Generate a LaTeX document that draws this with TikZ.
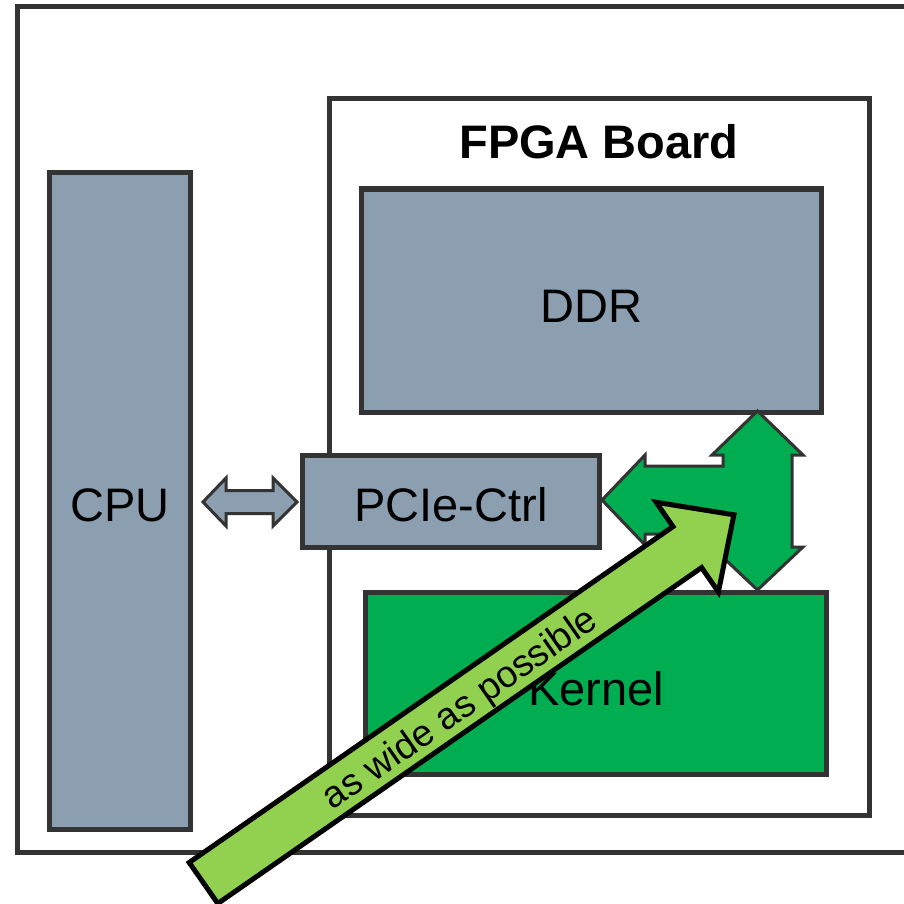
\documentclass[tikz,border=0pt]{standalone}
\usepackage{fontspec}
\setmainfont{Liberation Sans}
\definecolor{edge}{RGB}{51,51,51}
\definecolor{slate}{RGB}{140,159,176}
\definecolor{kgreen}{RGB}{0,173,80}
\definecolor{lgreen}{RGB}{146,208,80}
\begin{document}
\begin{tikzpicture}[x=1pt,y=-1pt,
  box/.style={draw=edge,line width=5pt,inner sep=0pt,outer sep=0pt,anchor=center},
  lbl/.style={inner sep=0pt,font=\fontsize{47}{50}\selectfont,text height=33.6pt,text depth=0pt},
  garrow/.style={draw=edge,line width=3pt,fill=kgreen,line join=miter},
  sarrow/.style={draw=edge,line width=3pt,fill=slate,line join=miter},
  bigarrow/.style={draw=black,line width=5pt,fill=lgreen,line join=miter}]
\useasboundingbox (0,0) rectangle (904,904);
\begin{scope}
\clip (0,0) rectangle (904,904);
% outer frame
\draw[edge,line width=5pt] (940,7) -- (17.5,7) -- (17.5,852.5) -- (940,852.5);
% FPGA board
\node[box,fill=white,minimum width=540.5pt,minimum height=716.5pt] (fpga) at (599.25,456.75) {};
\node[inner sep=0pt,font=\fontsize{47}{50}\selectfont\bfseries,text height=33.6pt,text depth=0pt] (fpgat) at (599,141.5) {FPGA Board};
% CPU
\node[box,fill=slate,minimum width=141.5pt,minimum height=656pt] (cpu) at (119.75,501) {};
\node[lbl] (cput) at (119.75,505) {CPU};
% DDR
\node[box,fill=slate,minimum width=460.5pt,minimum height=223pt] (ddr) at (591.25,300.5) {};
\node[lbl] (ddrt) at (591.25,306) {DDR};
% PCIe
\node[box,fill=slate,minimum width=297pt,minimum height=92.5pt] (pcie) at (451,501.25) {};
\node[lbl] (pciet) at (451,504.5) {PCIe-Ctrl};
% Kernel
\node[box,fill=kgreen,minimum width=461pt,minimum height=182pt] (kern) at (596,683.5) {};
\node[lbl] (kernt) at (596,688.5) {Kernel};
% green multi-way arrow between PCIe, DDR and Kernel
\coordinate (gl) at (602,500);
\coordinate (gt) at (757.5,411);
\coordinate (gb) at (757.5,590);
\draw[garrow] (gl) -- (645,455) -- (645,466) -- (723,466) -- (723,455) -- (712,455)
  -- (gt) -- (803,455) -- (792,455) -- (792,547) -- (803,547) -- (gb)
  -- (712,547) -- (723,547) -- (723,534) -- (645,534) -- (645,545) -- cycle;
% CPU <-> PCIe arrow
\coordinate (sl) at (203,502);
\coordinate (sr) at (297,502);
\draw[sarrow] (sl) -- (226,478) -- (226,490.5) -- (273,490.5) -- (273,478) -- (sr)
  -- (273,526) -- (273,513.5) -- (226,513.5) -- (226,526) -- cycle;
% big light-green arrow
\coordinate (bt1) at (189.2,862.5);
\coordinate (bt2) at (217.8,903.5);
\coordinate (btip) at (733.9,514.8);
\draw[bigarrow] (bt1) -- (673.0,526.6) -- (656.2,502.3) -- (btip) -- (718.4,591.9)
  -- (701.6,567.6) -- (bt2) -- cycle;
\node[inner sep=0pt,rotate=34.78,font=\fontsize{37.5}{40}\selectfont] (wide) at (461,710) {as wide as possible};
\end{scope}
\end{tikzpicture}
\end{document}
